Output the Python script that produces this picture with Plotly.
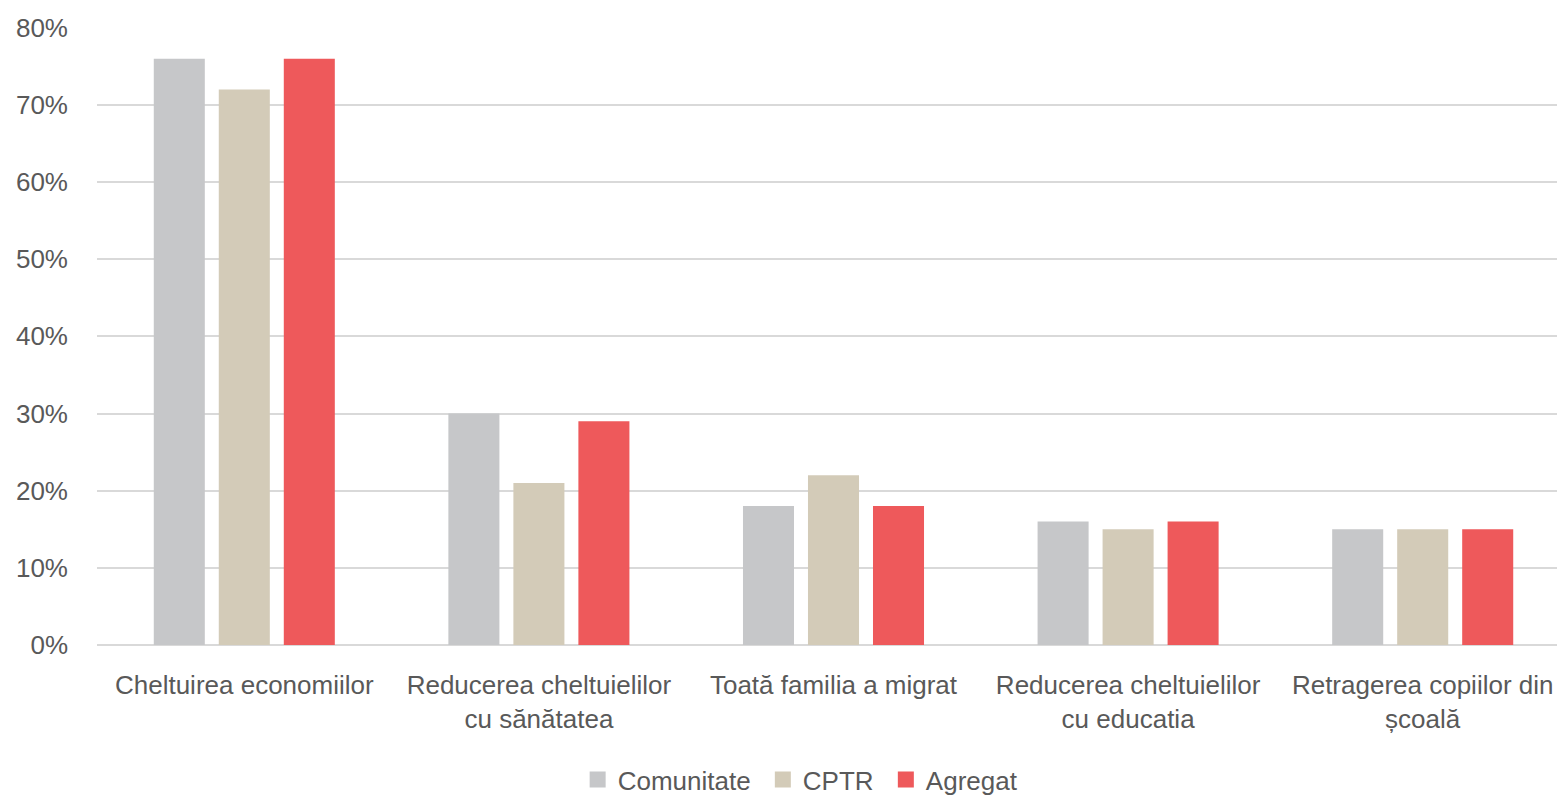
import plotly.graph_objects as go

categories = [
    "Cheltuirea economiilor",
    "Reducerea cheltuielilor<br>cu sănătatea",
    "Toată familia a migrat",
    "Reducerea cheltuielilor<br>cu educatia",
    "Retragerea copiilor din<br>școală",
]
comunitate = [0.76, 0.30, 0.18, 0.16, 0.15]
cptr = [0.72, 0.21, 0.22, 0.15, 0.15]
agregat = [0.76, 0.29, 0.18, 0.16, 0.15]

series = [
    ("Comunitate", comunitate, "#C6C7C9"),
    ("CPTR", cptr, "#D3CBB8"),
    ("Agregat", agregat, "#EE595B"),
]

FONT = "Liberation Sans Narrow, Arial Narrow, Liberation Sans, Arial, sans-serif"

fig = go.Figure()
for name, vals, color in series:
    fig.add_trace(go.Bar(x=categories, y=vals, name=name, marker_color=color,
                         marker_line_width=0, showlegend=False))
# legend entries with larger square swatches (trailing nbsp widens item spacing)
for i, (name, vals, color) in enumerate(series):
    label = name + ("\u00a0" if i < len(series) - 1 else "")
    fig.add_trace(go.Scatter(x=[None], y=[None], mode="markers", name=label,
                             marker=dict(symbol="square", size=16, color=color),
                             showlegend=True, hoverinfo="skip"))

fig.update_layout(
    width=1570, height=805,
    margin=dict(l=97, r=0, t=27, b=160),
    paper_bgcolor="white", plot_bgcolor="white",
    barmode="group", bargap=0.338, bargroupgap=0.215,
    font=dict(family=FONT, size=26, color="#595959"),
    showlegend=True,
    legend=dict(orientation="h", x=0.4777, xanchor="center", y=-0.218, yanchor="middle",
                font=dict(size=26), itemwidth=30, tracegroupgap=0),
    xaxis=dict(showgrid=False, showline=False, ticks="", tickangle=0,
               automargin=False, ticklabelstandoff=22, tickfont=dict(size=26)),
    yaxis=dict(range=[0, 0.801], tickvals=[0, 0.1, 0.2, 0.3, 0.4, 0.5, 0.6, 0.7, 0.8],
               tickformat=".0%", showgrid=True,
               gridcolor="#D9D9D9", gridwidth=2, zeroline=True, zerolinecolor="#D9D9D9",
               zerolinewidth=2, showline=False, ticklabelstandoff=28,
               automargin=False, tickfont=dict(size=26)),
)

fig.write_html(
    "out.html",
    config={"displayModeBar": False},
    post_script="document.body.style.margin='0';document.body.style.overflow='hidden';",
)
